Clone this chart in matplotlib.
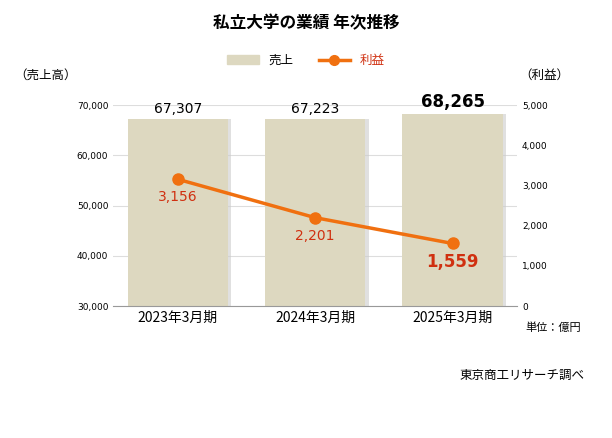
import matplotlib
matplotlib.use("Agg")
import matplotlib.pyplot as plt
from matplotlib.lines import Line2D
from matplotlib.patches import Patch

plt.rcParams['font.family'] = ['DejaVu Sans', 'Noto Sans CJK JP']

categories = ["2023年3月期", "2024年3月期", "2025年3月期"]
sales = [67307, 67223, 68265]
profit = [3156, 2201, 1559]

fig = plt.figure(figsize=(6.12, 4.38), dpi=100)
ax = fig.add_axes([0.185, 0.301, 0.66, 0.459])
ax2 = ax.twinx()
x = list(range(len(categories)))
barc = "#DDD8C0"
ax.bar([i + 0.025 for i in x], sales, width=0.73, color="#cccccc", alpha=0.6, zorder=1)
ax.bar(x, sales, width=0.73, color=barc, zorder=2)
ax.set_ylim(30000, 70000)
ax.set_xlim(-0.47, 2.47)
ax.set_yticks(range(30000, 70001, 10000))
ax.set_yticklabels([f"{v:,}" for v in range(30000, 70001, 10000)], fontsize=6.5)
ax.set_xticks(x)
ax.set_xticklabels(categories, fontsize=10, family=['Noto Sans CJK JP'])
ax.grid(axis='y', color="#dddddd", lw=0.8, zorder=0)
ax.set_axisbelow(True)
for s in ["top", "right", "left"]:
    ax.spines[s].set_visible(False)
    ax2.spines[s].set_visible(False)
ax2.spines["bottom"].set_visible(False)
ax.spines["bottom"].set_color("#999999")
ax.tick_params(axis='both', length=0)
ax2.tick_params(axis='both', length=0)
for i, s in enumerate(sales):
    last = i == len(sales) - 1
    ax.text(i, s + 600, f"{s:,}", ha='center', va='bottom',
            fontsize=12 if last else 10, fontweight='bold' if last else 'normal')

orange = "#F07010"
ax2.plot(x, profit, color=orange, lw=2.5, marker='o', ms=8, zorder=5)
ax2.set_ylim(0, 5000)
ax2.set_yticks(range(0, 5001, 1000))
ax2.set_yticklabels([f"{v:,}" for v in range(0, 5001, 1000)], fontsize=6.5)
red = "#D03010"
for i, p in enumerate(profit):
    last = i == len(profit) - 1
    ax2.text(i, p - 450, f"{p:,}", ha='center', va='center', color=red,
             fontsize=12 if last else 10, fontweight='bold' if last else 'normal')

cjk = ['Noto Sans CJK JP']
fig.text(0.5, 0.948, "私立大学の業績 年次推移", ha='center', va='center', fontsize=12, fontweight='bold', family=cjk)
handles = [Patch(color=barc), Line2D([], [], color=orange, lw=2.5, marker='o', ms=7)]
leg = fig.legend(handles, ["売上", "利益"], loc='center', bbox_to_anchor=(0.5, 0.862), ncol=2,
                 frameon=False, prop={'family': cjk, 'size': 9}, handlelength=2.5, columnspacing=2)
leg.get_texts()[1].set_color(red)
fig.text(0.075, 0.828, "（売上高）", ha='center', va='center', fontsize=9, family=cjk)
fig.text(0.89, 0.828, "（利益）", ha='center', va='center', fontsize=9, family=cjk)
fig.text(0.858, 0.253, "単位：億円", ha='left', va='center', fontsize=8, family=cjk)
fig.text(0.955, 0.143, "東京商工リサーチ調べ", ha='right', va='center', fontsize=9, family=cjk)
fig.savefig("out.png", dpi=100)
